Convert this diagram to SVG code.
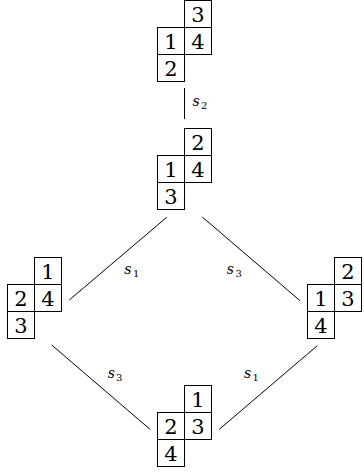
<svg xmlns="http://www.w3.org/2000/svg" width="364" height="472" viewBox="0 0 364 472">
<defs>
<style>
.c{fill:none;stroke:#000;stroke-width:1}
.d{font-size:21px;text-anchor:middle;fill:#000}
.e{stroke:#000;stroke-width:1;fill:none}
.s{font-size:14px;font-style:italic;fill:#000}
.b{font-size:10px;fill:#000}
</style>
<g id="shape">
<rect class="c" x="27" y="0" width="27" height="27"/>
<rect class="c" x="0" y="27" width="27" height="27"/>
<rect class="c" x="27" y="27" width="27" height="27"/>
<rect class="c" x="0" y="54" width="27" height="27"/>
</g>
</defs>
<g font-family="DejaVu Serif, serif">
<g id="connectors">
<line class="e" x1="184.5" y1="88" x2="184.5" y2="119"/>
<line class="e" x1="166.7" y1="217.3" x2="69.3" y2="300"/>
<line class="e" x1="202.3" y1="217" x2="300" y2="300.7"/>
<line class="e" x1="51.7" y1="345" x2="150" y2="429.3"/>
<line class="e" x1="219.3" y1="429.3" x2="317.3" y2="345.7"/>
<text class="s" x="192.5" y="106">s</text><text class="b" x="201" y="109">2</text>
<text class="s" x="124.3" y="274">s</text><text class="b" x="133" y="277">1</text>
<text class="s" x="226.7" y="274">s</text><text class="b" x="235.5" y="277">3</text>
<text class="s" x="107.7" y="378">s</text><text class="b" x="116" y="381">3</text>
<text class="s" x="244" y="378">s</text><text class="b" x="252.5" y="381">1</text>
</g>
<g id="n-top" transform="translate(157.5,0.5)">
<use href="#shape"/>
<text class="d" x="40.5" y="21.5">3</text>
<text class="d" x="13.5" y="48.5">1</text>
<text class="d" x="40.5" y="48.5">4</text>
<text class="d" x="13.5" y="75.5">2</text>
</g>
<g id="n-mid" transform="translate(157.5,128.5)">
<use href="#shape"/>
<text class="d" x="40.5" y="21.5">2</text>
<text class="d" x="13.5" y="48.5">1</text>
<text class="d" x="40.5" y="48.5">4</text>
<text class="d" x="13.5" y="75.5">3</text>
</g>
<g id="n-left" transform="translate(7.5,257.5)">
<use href="#shape"/>
<text class="d" x="40.5" y="21.5">1</text>
<text class="d" x="13.5" y="48.5">2</text>
<text class="d" x="40.5" y="48.5">4</text>
<text class="d" x="13.5" y="75.5">3</text>
</g>
<g id="n-right" transform="translate(307.5,257.5)">
<use href="#shape"/>
<text class="d" x="40.5" y="21.5">2</text>
<text class="d" x="13.5" y="48.5">1</text>
<text class="d" x="40.5" y="48.5">3</text>
<text class="d" x="13.5" y="75.5">4</text>
</g>
<g id="n-bottom" transform="translate(157.5,385.5)">
<use href="#shape"/>
<text class="d" x="40.5" y="21.5">1</text>
<text class="d" x="13.5" y="48.5">2</text>
<text class="d" x="40.5" y="48.5">3</text>
<text class="d" x="13.5" y="75.5">4</text>
</g>
</g>
</svg>
